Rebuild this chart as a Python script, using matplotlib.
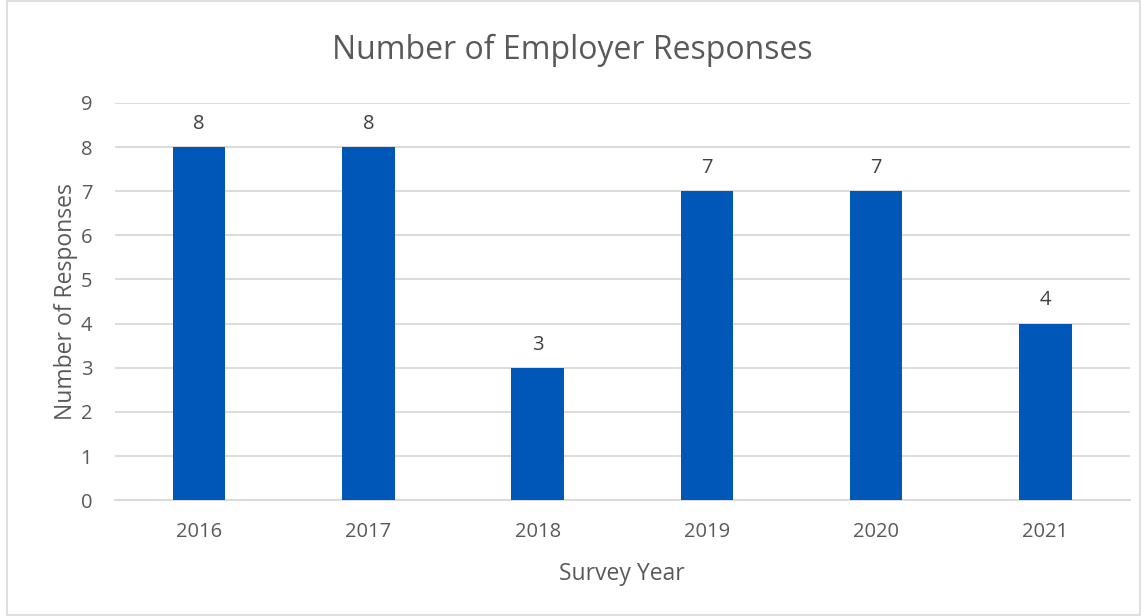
import numpy as np
import matplotlib.pyplot as plt
from matplotlib.patches import Rectangle

years = ["2016", "2017", "2018", "2019", "2020", "2021"]
responses = [8, 8, 3, 7, 7, 4]

plt.rcParams['font.family'] = ['Open Sans', 'DejaVu Sans']
txt = "#595959"

fig = plt.figure(figsize=(11.45, 6.16), dpi=100)
ax = fig.add_axes([0.1, 0.188, 0.887, 0.645])

x = np.arange(len(years))
bars = ax.bar(x, responses, width=0.31, color="#0057B8", zorder=3)
for b, v in zip(bars, responses):
    ax.text(b.get_x() + b.get_width() / 2, v + 0.3, str(v), ha="center", va="bottom",
            fontsize=14.5, color="#404040")

ax.set_xlim(-0.5, len(years) - 0.5)
ax.set_ylim(0, 9)
ax.set_yticks(range(10))
ax.set_xticks(x)
ax.set_xticklabels(years)
ax.grid(axis="y", color="#d9d9d9", linewidth=1.3, zorder=0)
for s in ["top", "right", "left"]:
    ax.spines[s].set_visible(False)
ax.spines["bottom"].set_color("#d9d9d9")
ax.spines["bottom"].set_linewidth(1.3)
ax.tick_params(length=0, labelsize=14.5, labelcolor=txt, pad=16)
ax.tick_params(axis="y", pad=16)

ax.set_xlabel("Survey Year", fontsize=16.5, color=txt, labelpad=14)
ax.set_ylabel("Number of Responses", fontsize=16.5, color=txt, labelpad=2)
fig.suptitle("Number of Employer Responses", fontsize=23, color=txt, y=0.945)

fig.patches.append(Rectangle((0.006, 0.002), 0.99, 0.996, transform=fig.transFigure,
                             fill=False, edgecolor="#d9d9d9", linewidth=1.2))

fig.savefig("out.png", dpi=100)
